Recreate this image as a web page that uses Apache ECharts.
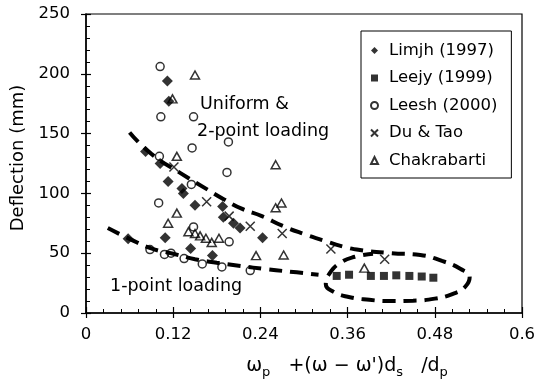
<!DOCTYPE html>
<html>
<head>
<meta charset="utf-8">
<script src="https://cdn.jsdelivr.net/npm/echarts@6/dist/echarts.min.js"></script>
<style>
  html, body { margin: 0; padding: 0; background: #fff; }
  #chart { width: 539px; height: 381px; }
</style>
</head>
<body>
<div id="chart"></div>
<script>
// Measured deflections (mm) against the combined reinforcement index
const limjh = [
  [0.112, 194], [0.114, 177], [0.082, 135], [0.102, 125], [0.113, 110],
  [0.132, 104], [0.134, 100], [0.150, 90], [0.188, 89], [0.189, 80],
  [0.203, 75], [0.212, 71], [0.243, 63], [0.109, 63], [0.144, 54],
  [0.174, 48], [0.058, 62]
];
const leejy = [
  [0.345, 31], [0.362, 32], [0.392, 31], [0.410, 31], [0.427, 31.5],
  [0.445, 31], [0.462, 30.5], [0.478, 29.5]
];
const leesh = [
  [0.102, 206], [0.103, 164], [0.148, 164], [0.146, 138], [0.101, 131],
  [0.196, 143], [0.194, 117.5], [0.145, 107.5], [0.100, 92], [0.148, 72],
  [0.197, 59.5], [0.088, 53], [0.108, 49], [0.117, 50], [0.135, 45.5],
  [0.160, 41], [0.187, 38.5], [0.226, 35.5]
];
const duTao = [
  [0.121, 122], [0.166, 93], [0.197, 81], [0.226, 72.5], [0.270, 66.5],
  [0.337, 53.5], [0.411, 45]
];
const chakrabarti = [
  [0.150, 199], [0.119, 179], [0.125, 131], [0.261, 124], [0.125, 83.5],
  [0.113, 75], [0.141, 68], [0.150, 66.5], [0.157, 64.5], [0.165, 62.5],
  [0.173, 59], [0.183, 62.5], [0.261, 88], [0.269, 92], [0.234, 48],
  [0.272, 48.5], [0.383, 37.5]
];

// Hand-drawn trend envelopes
const uniformTrend = [
  [0.060, 151], [0.090, 133], [0.130, 117], [0.165, 104], [0.190, 95],
  [0.215, 87], [0.242, 81], [0.270, 73], [0.300, 66], [0.325, 61],
  [0.354, 55.5], [0.377, 52.7], [0.420, 50], [0.460, 48.5], [0.490, 43.5],
  [0.515, 37], [0.528, 30], [0.522, 22], [0.505, 16], [0.480, 12],
  [0.450, 10.3], [0.420, 10], [0.390, 11], [0.360, 13.6], [0.340, 18],
  [0.330, 24], [0.335, 33], [0.350, 42], [0.370, 47], [0.395, 49.5]
];
const onePointTrend = [
  [0.030, 71], [0.060, 62], [0.090, 54], [0.120, 49.5], [0.150, 45],
  [0.180, 42], [0.210, 39.5], [0.250, 36.5], [0.290, 34], [0.320, 32]
];

const xTickLabels = ['0', '0.12', '0.24', '0.36', '0.48', '0.6'];
const legendNames = ['Limjh (1997)', 'Leejy (1999)', 'Leesh (2000)', 'Du & Tao', 'Chakrabarti'];

const FONT = 'DejaVu Sans';
const INK = '#000';

const chart = echarts.init(document.getElementById('chart'), null, { renderer: 'canvas' });

const baseX = {
  type: 'value', min: 0, max: 0.6, interval: 0.12,
  splitLine: { show: false }
};
const baseY = {
  type: 'value', min: 0, max: 250, interval: 50,
  splitLine: { show: false }
};

const trendLine = (name, data) => ({
  name, type: 'line', data, smooth: 0.5, symbol: 'none', silent: true, z: 1,
  lineStyle: { color: INK, width: 4, type: [13, 8] }
});

const openStyle = { color: 'rgba(0,0,0,0)', borderColor: INK, borderWidth: 1.5 };
const tickLine = { color: INK, width: 1.2 };

chart.setOption({
  animation: false,
  backgroundColor: '#fff',
  textStyle: { fontFamily: FONT, color: INK },
  grid: {
    left: 86, right: 17, top: 14, bottom: 68,
    show: true, borderColor: INK, borderWidth: 1.2, backgroundColor: 'transparent',
    outerBoundsMode: 'none'
  },
  xAxis: [
    // main axis: labels, inward major ticks and minor ticks
    Object.assign({}, baseX, {
      position: 'bottom',
      axisLine: { lineStyle: { color: INK, width: 1.5 } },
      axisTick: { show: true, inside: true, length: 6, lineStyle: tickLine },
      minorTick: { show: true, splitNumber: 5, length: 4, lineStyle: { color: INK, width: 1 } },
      axisLabel: {
        color: INK, fontSize: 16.5, fontFamily: FONT, margin: 13,
        formatter: v => xTickLabels[Math.round(v / 0.12)]
      }
    }),
    // companion axis: outward halves of the major ticks
    Object.assign({}, baseX, {
      position: 'bottom',
      axisLine: { show: false, onZero: false },
      axisLabel: { show: false },
      axisTick: { show: true, inside: false, length: 5, lineStyle: tickLine },
      minorTick: { show: false }
    })
  ],
  yAxis: [
    Object.assign({}, baseY, {
      position: 'left',
      axisLine: { show: true, lineStyle: { color: INK, width: 1.5 } },
      axisTick: { show: true, inside: true, length: 5, lineStyle: tickLine },
      minorTick: { show: true, splitNumber: 5, length: 4, lineStyle: { color: INK, width: 1 } },
      axisLabel: { color: INK, fontSize: 16.5, fontFamily: FONT, margin: 16 }
    }),
    Object.assign({}, baseY, {
      position: 'left',
      axisLine: { show: false, onZero: false },
      axisLabel: { show: false },
      axisTick: { show: true, inside: false, length: 5, lineStyle: tickLine },
      minorTick: { show: false }
    })
  ],
  legend: {
    data: legendNames,
    orient: 'vertical',
    left: 361, top: 31,
    padding: [11, 14, 9, 9],
    itemGap: 10.5,
    itemWidth: 7, itemHeight: 7,
    borderColor: INK, borderWidth: 1, borderRadius: 0,
    backgroundColor: '#fff',
    textStyle: { color: INK, fontSize: 16.5, fontFamily: FONT, padding: [0, 0, 0, 6] }
  },
  graphic: [
    { type: 'text', x: 18.5, y: 158, rotation: Math.PI / 2,
      style: { text: 'Deflection (mm)', font: '18px "DejaVu Sans"', fill: INK,
               align: 'center', verticalAlign: 'middle' } },
    { type: 'text', x: 347, y: 366,
      style: {
        text: '{m|ω}{s|p}{m|   +(ω − ω\')d}{s|s}{m|   /d}{s|p}',
        align: 'center', verticalAlign: 'middle', fill: INK,
        rich: {
          m: { fontSize: 19, fontFamily: FONT, lineHeight: 26, fill: INK },
          s: { fontSize: 13, fontFamily: FONT, lineHeight: 26, verticalAlign: 'bottom', fill: INK }
        }
      } },
    { type: 'text', x: 200, y: 104,
      style: { text: 'Uniform &', font: '17.5px "DejaVu Sans"', fill: INK, verticalAlign: 'middle' } },
    { type: 'text', x: 197, y: 131,
      style: { text: '2-point loading', font: '17.5px "DejaVu Sans"', fill: INK, verticalAlign: 'middle' } },
    { type: 'text', x: 110, y: 286,
      style: { text: '1-point loading', font: '17.5px "DejaVu Sans"', fill: INK, verticalAlign: 'middle' } }
  ],
  series: [
    trendLine('uniform', uniformTrend),
    trendLine('one-point', onePointTrend),
    { name: 'Limjh (1997)', type: 'scatter', data: limjh, symbol: 'diamond', symbolSize: 11, z: 3,
      itemStyle: { color: INK } },
    { name: 'Leejy (1999)', type: 'scatter', data: leejy, symbol: 'rect', symbolSize: 8, z: 3,
      itemStyle: { color: INK } },
    { name: 'Leesh (2000)', type: 'scatter', data: leesh, symbol: 'circle', symbolSize: 8, z: 3,
      itemStyle: openStyle },
    { name: 'Du & Tao', type: 'scatter', data: duTao, symbol: 'path://M0,0L10,10M0,10L10,0', symbolSize: 9, z: 3,
      itemStyle: openStyle },
    { name: 'Chakrabarti', type: 'scatter', data: chakrabarti, symbol: 'triangle', symbolSize: [9, 8], z: 3,
      itemStyle: openStyle }
  ]
});
</script>
</body>
</html>
